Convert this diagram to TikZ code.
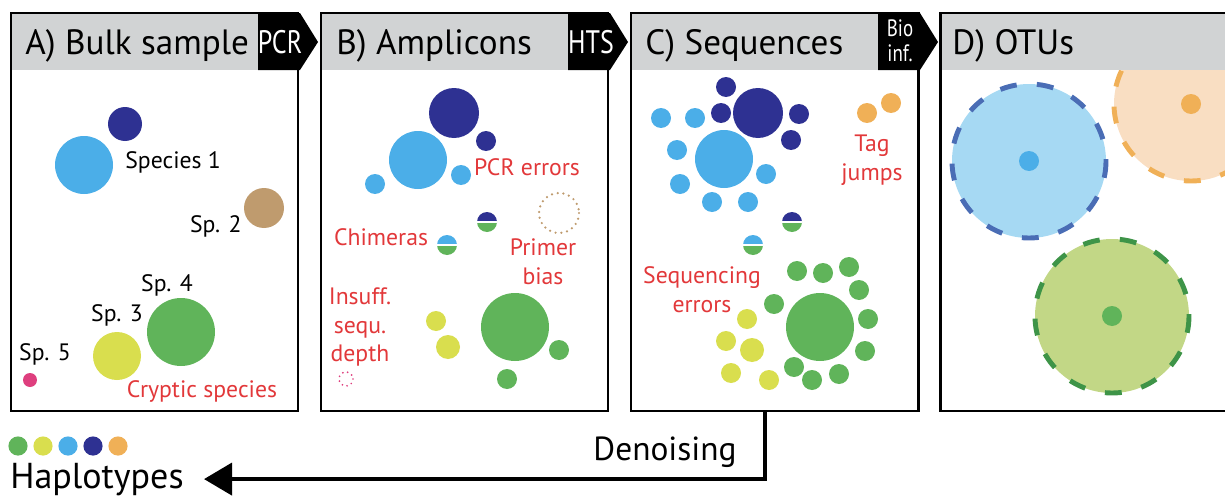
\documentclass[tikz,border=0pt]{standalone}
\usepackage{fontspec}
\setmainfont{PT Sans}
\usetikzlibrary{arrows.meta}
\definecolor{hapDB}{HTML}{2E3192}
\definecolor{hapLB}{HTML}{4BAEE8}
\definecolor{hapBR}{HTML}{BF9B6E}
\definecolor{hapGR}{HTML}{60B45A}
\definecolor{hapYE}{HTML}{D9DE4E}
\definecolor{hapPK}{HTML}{DE3F7E}
\definecolor{hapOR}{HTML}{F0B057}
\definecolor{errRed}{HTML}{E2383A}
\definecolor{hdrGray}{HTML}{D1D3D4}
\definecolor{otuLB}{HTML}{A6D9F3}
\definecolor{otuOR}{HTML}{F9DEC2}
\definecolor{otuGR}{HTML}{C2D786}
\definecolor{otuDB}{HTML}{4A6DB5}
\definecolor{otuDG}{HTML}{3E9448}
\tikzset{
  panel/.style={draw=black,line width=1.7pt},
  hdrtxt/.style={anchor=base west,inner sep=0pt,font=\fontsize{20}{22}\selectfont},
  tagtxt/.style={anchor=base,inner sep=0pt,text=white,xscale=0.8,font=\fontsize{18.5}{20}\selectfont},
  sptxt/.style={anchor=base,inner sep=0pt,font=\fontsize{13.5}{16.4}\selectfont},
  errtxt/.style={sptxt,text=errRed,align=center},
  brdots/.style={dash pattern=on 0pt off 3.3pt,line cap=round,line width=1.4pt},
  otudash/.style={dash pattern=on 9.6pt off 11.5pt,line width=2.8pt},
  denoise/.style={line width=2.3pt,-{Triangle[length=5.6mm,width=6.4mm]}}
}
% half dot: x, y, top colour (bottom is always green)
\newcommand{\chimdot}[3]{%
  \fill[#3] (#1-\rs,#2) arc[start angle=180,end angle=360,radius=\rs] -- cycle;
  \fill[hapGR] (#1-\rs,#2) arc[start angle=180,end angle=0,radius=\rs] -- cycle;
  \draw[white,line width=0.6pt] (#1-\rs,#2) -- (#1+\rs,#2);
}
\begin{document}
\begin{tikzpicture}[x=0.02cm,y=-0.02cm]
\pgfmathsetmacro{\rs}{10}
\pgfmathsetmacro{\rb}{29}
\pgfmathsetmacro{\rg}{34}
\pgfmathsetmacro{\ro}{77}
\useasboundingbox (0,0) rectangle (1225,497);
\clip (0,0) rectangle (1225,497);
%
% A) bulk sample
\fill[hapDB](125,124)circle(17);
\fill[hapLB](84,165)circle(\rb);
\fill[hapBR](264,208)circle(20);
\fill[hapGR](181,332)circle(\rg);
\fill[hapYE](117,356)circle(24);
\fill[hapPK](30,380)circle(7);
\node[sptxt,anchor=base west](spA1) at (125,168){Species 1};
\node[sptxt,anchor=base east](spA2) at (242,232){Sp. 2};
\node[sptxt](spA4) at (167,291){Sp. 4};
\node[sptxt](spA3) at (117,321){Sp. 3};
\node[sptxt](spA5) at (45,360){Sp. 5};
\node[errtxt](errA) at (202,397){Cryptic species};
\fill[hdrGray](11,13)rectangle(258,70);
\fill(258,13)--(300,13)--(318,42)--(300,70)--(258,70)--cycle;
\draw[panel](11,13)rectangle(298,411);
\node[hdrtxt](hdrA) at (25,54){A) Bulk sample};
\node[tagtxt](tagA) at (280,53){PCR};
%
% B) amplicons
\fill[hapDB](454,113)circle(25);
\fill[hapDB](486,141)circle(\rs);
\fill[hapLB](418,160)circle(\rb);
\fill[hapLB](375,184)circle(\rs);
\fill[hapLB](461,175)circle(\rs);
\draw[brdots,hapBR](559,213)circle(20);
\chimdot{487}{222}{hapDB}
\chimdot{447}{245}{hapLB}
\fill[hapYE](436,321)circle(\rs);
\fill[hapYE](448,347)circle(12);
\fill[hapGR](515,327)circle(\rg);
\fill[hapGR](559,350)circle(\rs);
\fill[hapGR](507,379)circle(\rs);
\draw[brdots,hapPK,line width=1.1pt,dash pattern=on 0pt off 2.8pt](346,379)circle(7);
\node[errtxt](errB1) at (527,175){PCR errors};
\node[errtxt](errB2) at (381,245){Chimeras};
\node[errtxt,anchor=center](errB3) at (543,262){Primer\\bias};
\node[errtxt,anchor=center](errB4) at (360,327){Insuff.\\sequ.\\depth};
\fill[hdrGray](321,13)rectangle(568,70);
\fill(568,13)--(610,13)--(628,42)--(610,70)--(568,70)--cycle;
\draw[panel](321,13)rectangle(608,411);
\node[hdrtxt](hdrB) at (336,54){B) Amplicons};
\node[tagtxt](tagB) at (591,53){HTS};
%
% C) sequences
\fill[hapDB](758,113)circle(25);
\foreach \px/\py in {726/87,721/113,799/114,791/140}
  \fill[hapDB](\px,\py)circle(\rs);
\fill[hapLB](724,159)circle(\rb);
\foreach \px/\py in {661/118,695/118,677/150,680/184,712/202,748/202,766/174}
  \fill[hapLB](\px,\py)circle(\rs);
\fill[hapOR](867,113)circle(\rs);
\fill[hapOR](891,103)circle(\rs);
\chimdot{792}{222}{hapDB}
\chimdot{753}{245}{hapLB}
\fill[hapGR](820,327)circle(\rg);
\foreach \px/\py in {797/271,823/273,849/267,859/290,868/319,865/351,839/374,812/380,794/367,774/304}
  \fill[hapGR](\px,\py)circle(\rs);
\foreach \px/\py in {747/319,726/341,731/373,769/380}
  \fill[hapYE](\px,\py)circle(\rs);
\fill[hapYE](752,350)circle(12);
\node[errtxt,anchor=center](errC1) at (872,160){Tag\\jumps};
\node[errtxt,anchor=center](errC2) at (702,290){Sequencing\\errors};
\fill[hdrGray](631,13)rectangle(878,70);
\fill(878,13)--(920,13)--(938,42)--(920,70)--(878,70)--cycle;
\draw[panel](631,13)rectangle(918,411);
\node[hdrtxt](hdrC) at (645,54){C) Sequences};
\node[tagtxt,anchor=center,align=center,font=\fontsize{13.5}{14.2}\selectfont](tagC) at (900,41){Bio\\inf.};
\coordinate(Cbot) at (765,411);
%
% D) OTUs
\fill[otuLB](1029,161)circle(\ro);
\draw[otudash,otuDB](1029,161)circle(\ro);
\fill[hapLB](1029,161)circle(\rs);
\fill[otuOR](1191,104)circle(\ro);
\draw[otudash,hapOR](1191,104)circle(\ro);
\fill[hapOR](1191,104)circle(\rs);
\fill[otuGR](1112,316)circle(\ro);
\draw[otudash,otuDG](1112,316)circle(\ro);
\fill[hapGR](1112,316)circle(\rs);
\fill[hdrGray](940,13)rectangle(1240,70);
\draw[panel](940,13)rectangle(1240,411);
\node[hdrtxt](hdrD) at (952,54){D) OTUs};
%
% haplotypes
\foreach \px/\hc in {18/hapGR,43/hapYE,68/hapLB,93/hapDB,118/hapOR}
  \fill[\hc](\px,446)circle(9.6);
\node[anchor=base west,inner sep=0pt,font=\fontsize{20.5}{24}\selectfont](hapl) at (10,488){Haplotypes};
\node[anchor=base,inner sep=0pt,font=\fontsize{19}{22}\selectfont](den) at (665,460){Denoising};
\draw[denoise](Cbot)|-([xshift=0.4cm]hapl.east);
\end{tikzpicture}
\end{document}
